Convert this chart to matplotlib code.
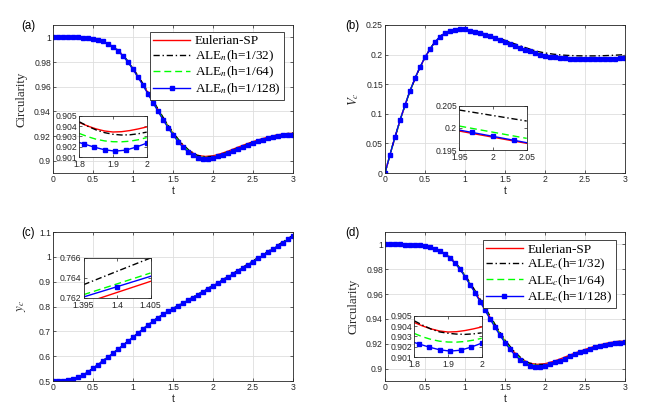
import numpy as np
import matplotlib
matplotlib.use("Agg")
import matplotlib.pyplot as plt
from matplotlib.ticker import FuncFormatter

plt.rcParams["font.family"] = ["Liberation Sans", "DejaVu Sans"]
plt.rcParams["mathtext.fontset"] = "stix"

W, H = 664, 415

# time grids: coarse for the plain lines, 1/16 for the marked h=1/128 runs
t_coarse = np.linspace(0, 3, 31)
t_fine = np.arange(49) / 16

# ---- (a) circularity, ALE_n
circ_sp = [1.0000, 1.0000, 1.0000, 0.9999, 0.9996, 0.9988, 0.9973, 0.9945, 0.9900, 0.9835, 0.9745,
           0.9645, 0.9536, 0.9427, 0.9320, 0.9222, 0.9141, 0.9081, 0.9043, 0.9034, 0.9039,
           0.9057, 0.9080, 0.9106, 0.9131, 0.9154, 0.9175, 0.9193, 0.9208, 0.9218, 0.9222]
circ_n32 = [1.0000, 1.0000, 1.0000, 0.9999, 0.9996, 0.9988, 0.9973, 0.9946, 0.9902, 0.9838, 0.9749,
            0.9650, 0.9542, 0.9433, 0.9326, 0.9228, 0.9146, 0.9084, 0.9044, 0.9032, 0.9034,
            0.9050, 0.9073, 0.9099, 0.9126, 0.9150, 0.9172, 0.9191, 0.9207, 0.9218, 0.9224]
circ_n64 = [1.0000, 1.0000, 1.0000, 0.9999, 0.9996, 0.9988, 0.9973, 0.9944, 0.9899, 0.9833, 0.9742,
            0.9641, 0.9531, 0.9421, 0.9314, 0.9216, 0.9135, 0.9074, 0.9033, 0.9025, 0.9029,
            0.9046, 0.9070, 0.9096, 0.9122, 0.9146, 0.9168, 0.9186, 0.9201, 0.9211, 0.9216]
circ_n128 = [1.0000, 1.0000, 1.0000, 1.0000, 0.9999, 0.9999, 0.9997, 0.9994, 0.9988,
             0.9979, 0.9967, 0.9948, 0.9923, 0.9890, 0.9849, 0.9799, 0.9740,
             0.9675, 0.9611, 0.9540, 0.9470, 0.9400, 0.9332, 0.9268, 0.9208,
             0.9155, 0.9108, 0.9072, 0.9043, 0.9022, 0.9016, 0.9016, 0.9023,
             0.9035, 0.9049, 0.9064, 0.9081, 0.9098, 0.9114, 0.9130, 0.9144,
             0.9158, 0.9170, 0.9181, 0.9191, 0.9199, 0.9205, 0.9209, 0.9211]

# ---- (d) circularity, ALE_c
circ_c32 = [1.0000, 1.0000, 1.0000, 0.9999, 0.9996, 0.9988, 0.9974, 0.9947, 0.9904, 0.9841, 0.9753,
            0.9655, 0.9547, 0.9438, 0.9330, 0.9231, 0.9148, 0.9086, 0.9045, 0.9033, 0.9033,
            0.9047, 0.9070, 0.9096, 0.9123, 0.9148, 0.9170, 0.9189, 0.9205, 0.9217, 0.9224]
circ_c64 = [1.0000, 1.0000, 1.0000, 0.9999, 0.9996, 0.9988, 0.9973, 0.9945, 0.9900, 0.9835, 0.9745,
            0.9644, 0.9534, 0.9424, 0.9316, 0.9218, 0.9136, 0.9075, 0.9033, 0.9025, 0.9028,
            0.9045, 0.9068, 0.9094, 0.9120, 0.9145, 0.9167, 0.9185, 0.9200, 0.9211, 0.9216]
circ_c128 = list(circ_n128)  # indistinguishable from (a) at this scale

# ---- (b) V_c
vc_sp = [0.0000, 0.0490, 0.0940, 0.1340, 0.1676, 0.1955, 0.2167, 0.2317, 0.2398, 0.2425, 0.2424,
         0.2393, 0.2355, 0.2313, 0.2267, 0.2216, 0.2161, 0.2109, 0.2058, 0.2013, 0.1979,
         0.1958, 0.1942, 0.1933, 0.1929, 0.1928, 0.1928, 0.1929, 0.1931, 0.1934, 0.1937]
vc_n32 = [0.0000, 0.0490, 0.0940, 0.1340, 0.1677, 0.1957, 0.2170, 0.2321, 0.2403, 0.2430, 0.2428,
          0.2405, 0.2370, 0.2330, 0.2287, 0.2241, 0.2192, 0.2143, 0.2098, 0.2055, 0.2028,
          0.2008, 0.1994, 0.1985, 0.1980, 0.1978, 0.1978, 0.1980, 0.1985, 0.1992, 0.2000]
vc_n64 = [0.0000, 0.0490, 0.0940, 0.1340, 0.1676, 0.1956, 0.2168, 0.2318, 0.2400, 0.2427, 0.2426,
          0.2397, 0.2360, 0.2319, 0.2274, 0.2225, 0.2172, 0.2120, 0.2070, 0.2026, 0.1990,
          0.1970, 0.1955, 0.1946, 0.1942, 0.1940, 0.1940, 0.1941, 0.1943, 0.1946, 0.1950]
vc_n128 = [0.0000, 0.0310, 0.0610, 0.0890, 0.1150, 0.1390, 0.1600, 0.1790, 0.1955,
           0.2095, 0.2215, 0.2305, 0.2365, 0.2403, 0.2422, 0.2428, 0.2425,
           0.2407, 0.2385, 0.2362, 0.2337, 0.2310, 0.2281, 0.2250, 0.2218,
           0.2184, 0.2150, 0.2117, 0.2085, 0.2055, 0.2028, 0.2000, 0.1981,
           0.1966, 0.1954, 0.1945, 0.1938, 0.1934, 0.1931, 0.1930, 0.1929,
           0.1929, 0.1929, 0.1930, 0.1931, 0.1932, 0.1934, 0.1936, 0.1938]

# ---- (c) y_c
yc_sp = [0.5000, 0.5004, 0.5048, 0.5130, 0.5283, 0.5508, 0.5750, 0.5991, 0.6242, 0.6498, 0.6757,
         0.7020, 0.7276, 0.7515, 0.7717, 0.7908, 0.8085, 0.8262, 0.8446, 0.8635, 0.8825,
         0.9013, 0.9202, 0.9398, 0.9600, 0.9805, 1.0005, 1.0205, 1.0410, 1.0618, 1.0827]
yc_n32 = [0.5000, 0.5005, 0.5050, 0.5134, 0.5288, 0.5514, 0.5757, 0.5999, 0.6250, 0.6507, 0.6767,
          0.7032, 0.7291, 0.7533, 0.7737, 0.7929, 0.8107, 0.8286, 0.8472, 0.8663, 0.8855,
          0.9045, 0.9236, 0.9433, 0.9637, 0.9843, 1.0045, 1.0246, 1.0452, 1.0660, 1.0868]
yc_n64 = [0.5000, 0.5005, 0.5049, 0.5132, 0.5285, 0.5511, 0.5752, 0.5994, 0.6245, 0.6502, 0.6762,
          0.7026, 0.7284, 0.7525, 0.7727, 0.7918, 0.8094, 0.8272, 0.8456, 0.8645, 0.8834,
          0.9022, 0.9212, 0.9408, 0.9611, 0.9816, 1.0017, 1.0217, 1.0422, 1.0630, 1.0838]
yc_n128 = [0.5000, 0.5002, 0.5015, 0.5040, 0.5080, 0.5145, 0.5235, 0.5360, 0.5510,
           0.5660, 0.5810, 0.5960, 0.6115, 0.6275, 0.6435, 0.6598, 0.6760,
           0.6925, 0.7090, 0.7250, 0.7405, 0.7550, 0.7680, 0.7800, 0.7915,
           0.8025, 0.8135, 0.8245, 0.8360, 0.8475, 0.8595, 0.8712, 0.8830,
           0.8947, 0.9065, 0.9183, 0.9302, 0.9428, 0.9555, 0.9682, 0.9810,
           0.9935, 1.0060, 1.0185, 1.0310, 1.0440, 1.0570, 1.0700, 1.0830]

# ---- zoom insets
ins_circ_t = [1.8, 1.825, 1.85, 1.875, 1.9, 1.925, 1.95, 1.975, 2.0]
ins_circ_t128 = [1.8, 1.8125, 1.84375, 1.875, 1.90625, 1.9375, 1.96875, 2.0]
ins_circ_sp = [0.90434, 0.90400, 0.90372, 0.90352, 0.90342, 0.90345, 0.90356, 0.90372, 0.90391]
ins_circ_n32 = [0.90441, 0.90398, 0.90362, 0.90336, 0.90320, 0.90313, 0.90315, 0.90325, 0.90341]
ins_circ_n64 = [0.90328, 0.90297, 0.90272, 0.90256, 0.90248, 0.90247, 0.90253, 0.90267, 0.90288]
ins_circ_n128 = [0.90240, 0.90228, 0.90196, 0.90170, 0.90157, 0.90166, 0.90196, 0.90234]
ins_circ_c32 = [0.90450, 0.90408, 0.90370, 0.90343, 0.90330, 0.90322, 0.90319, 0.90324, 0.90334]
ins_circ_c64 = [0.90328, 0.90295, 0.90270, 0.90253, 0.90245, 0.90244, 0.90250, 0.90263, 0.90281]
ins_circ_c128 = list(ins_circ_n128)

ins_vc_t = [1.95, 1.975, 2.0, 2.025, 2.05]
ins_vc_t128 = [1.95, 1.96875, 2.0, 2.03125, 2.05]
ins_vc_sp = [0.19928, 0.19858, 0.19789, 0.19719, 0.19650]
ins_vc_n32 = [0.20402, 0.20340, 0.20278, 0.20216, 0.20154]
ins_vc_n64 = [0.20041, 0.19971, 0.19902, 0.19832, 0.19763]
ins_vc_n128 = [0.19950, 0.19897, 0.19808, 0.19719, 0.19665]

ins_yc_t = [1.395, 1.4, 1.405]
ins_yc_sp = [0.76145, 0.76255, 0.76365]
ins_yc_n32 = [0.76332, 0.76465, 0.76597]
ins_yc_n64 = [0.76233, 0.76340, 0.76448]
ins_yc_n128 = [0.76210, 0.76312, 0.76415]

RED, BLACK, GREEN, BLUE = (1, 0, 0), (0, 0, 0), (0, 1, 0), (0, 0, 1)
AXC = "#262626"
TICK_FS = 6.2
LW, MS = 1.0, 2.6
DASHDOT, DASHED = (4.5, 2, 1, 2), (5, 2.8)


def px_rect(x0, y0, x1, y1):
    return [x0 / W, 1 - y1 / H, (x1 - x0) / W, (y1 - y0) / H]


def style(ax, xt, yt, xl, yl, grid=True, xpad=1.5):
    ax.set_xlim(*xl); ax.set_ylim(*yl)
    ax.set_xticks(xt); ax.set_yticks(yt)
    fmt = FuncFormatter(lambda v, p: f"{v:g}")
    ax.xaxis.set_major_formatter(fmt); ax.yaxis.set_major_formatter(fmt)
    ax.tick_params(direction="in", length=2.2, width=0.5, labelsize=TICK_FS, colors=AXC,
                   top=True, right=True, pad=1.5)
    ax.tick_params(axis="x", pad=xpad)
    for s in ax.spines.values():
        s.set_color(AXC); s.set_linewidth(0.6)
    if grid:
        ax.grid(True, color="#dedede", lw=0.6)
        ax.set_axisbelow(True)


def draw(ax, tc, sp, r32, r64, tf, r128, sub, every=1):
    ax.plot(tc, sp, color=RED, lw=LW, label="Eulerian-SP")
    ax.plot(tc, r32, color=BLACK, lw=LW, dashes=DASHDOT, label=r"ALE$_%s$(h=1/32)" % sub)
    ax.plot(tc, r64, color=GREEN, lw=LW, dashes=DASHED, label=r"ALE$_%s$(h=1/64)" % sub)
    ax.plot(tf, r128, color=BLUE, lw=LW, marker="s", ms=MS, markevery=every,
            label=r"ALE$_%s$(h=1/128)" % sub)


def draw_inset(ax, tc, sp, r32, r64, tf, r128, every):
    ax.plot(tc, sp, color=RED, lw=LW)
    ax.plot(tc, r32, color=BLACK, lw=LW, dashes=DASHDOT)
    ax.plot(tc, r64, color=GREEN, lw=LW, dashes=DASHED)
    ax.plot(tf, r128, color=BLUE, lw=LW, marker="s", ms=MS, markevery=every)


fig = plt.figure(figsize=(W / 100, H / 100), dpi=100)

t_ticks = [0, 0.5, 1, 1.5, 2, 2.5, 3]
circ_ticks = [0.9, 0.92, 0.94, 0.96, 0.98, 1.0]

ax_a = fig.add_axes(px_rect(53, 25, 293, 173))
ax_b = fig.add_axes(px_rect(385, 25, 625, 173))
ax_c = fig.add_axes(px_rect(53, 232, 293, 381))
ax_d = fig.add_axes(px_rect(385, 232, 625, 381))

draw(ax_a, t_coarse, circ_sp, circ_n32, circ_n64, t_fine, circ_n128, "n")
draw(ax_b, t_coarse, vc_sp, vc_n32, vc_n64, t_fine, vc_n128, "n")
draw(ax_c, t_coarse, yc_sp, yc_n32, yc_n64, t_fine, yc_n128, "n")
draw(ax_d, t_coarse, circ_sp, circ_c32, circ_c64, t_fine, circ_c128, "c")

style(ax_a, t_ticks, circ_ticks, (0, 3), (0.89, 1.01))
style(ax_b, t_ticks, [0, 0.05, 0.1, 0.15, 0.2, 0.25], (0, 3), (0, 0.25))
style(ax_c, t_ticks, [0.5, 0.6, 0.7, 0.8, 0.9, 1.0, 1.1], (0, 3), (0.5, 1.1))
style(ax_d, t_ticks, circ_ticks, (0, 3), (0.89, 1.01))

serif = {"family": ["Liberation Serif", "DejaVu Serif"], "size": 9.3}
for ax, lab, yx in [(ax_a, "Circularity", -0.108), (ax_b, r"$V_c$", -0.10),
                    (ax_c, r"$y_c$", -0.106), (ax_d, "Circularity", -0.108)]:
    ax.set_ylabel(lab, fontdict=serif, color=AXC)
    ax.yaxis.set_label_coords(yx, 0.5)
    ax.set_xlabel("t", fontsize=7.5, color=AXC, va="top")
    ax.xaxis.set_label_coords(0.5, -0.09)

leg_prop = {"family": ["Liberation Serif", "DejaVu Serif"], "size": 9.5}
for ax, top in [(ax_a, 0.953), (ax_d, 0.946)]:
    leg = ax.legend(loc="upper right", bbox_to_anchor=(0.9625, top), prop=leg_prop,
                    fancybox=False, framealpha=1, edgecolor=AXC, handlelength=2.8,
                    handletextpad=0.35, borderpad=0.25, labelspacing=0.08, borderaxespad=0)
    leg.get_frame().set_linewidth(0.6)

# insets
in_a = fig.add_axes(px_rect(79.3, 115.7, 146.7, 157))
draw_inset(in_a, ins_circ_t, ins_circ_sp, ins_circ_n32, ins_circ_n64,
           ins_circ_t128, ins_circ_n128, list(range(1, 8)))
style(in_a, [1.8, 1.9, 2.0], [0.901, 0.902, 0.903, 0.904, 0.905], (1.8, 2.0), (0.901, 0.905),
      grid=False, xpad=2.5)

in_b = fig.add_axes(px_rect(459.3, 105.7, 526.7, 150))
draw_inset(in_b, ins_vc_t, ins_vc_sp, ins_vc_n32, ins_vc_n64, ins_vc_t128, ins_vc_n128, [1, 2, 3])
style(in_b, [1.95, 2.0, 2.05], [0.195, 0.2, 0.205], (1.95, 2.05), (0.195, 0.205),
      grid=False, xpad=2.5)

in_c = fig.add_axes(px_rect(83.5, 257.7, 150.5, 298))
draw_inset(in_c, ins_yc_t, ins_yc_sp, ins_yc_n32, ins_yc_n64, ins_yc_t, ins_yc_n128, [1])
style(in_c, [1.395, 1.4, 1.405], [0.762, 0.764, 0.766], (1.395, 1.405), (0.762, 0.766),
      grid=False, xpad=2.5)

in_d = fig.add_axes(px_rect(414.3, 315.7, 481.7, 357))
draw_inset(in_d, ins_circ_t, ins_circ_sp, ins_circ_c32, ins_circ_c64,
           ins_circ_t128, ins_circ_c128, list(range(1, 8)))
style(in_d, [1.8, 1.9, 2.0], [0.901, 0.902, 0.903, 0.904, 0.905], (1.8, 2.0), (0.901, 0.905),
      grid=False, xpad=2.5)

# panel tags
for lab, x, y in [("(a)", 21.5, 25.5), ("(b)", 345, 25.5), ("(c)", 21.5, 233), ("(d)", 345, 232.5)]:
    fig.text(x / W, 1 - y / H, lab, fontsize=8.3, color="black", ha="left", va="center")

fig.savefig("out.png", dpi=100)
